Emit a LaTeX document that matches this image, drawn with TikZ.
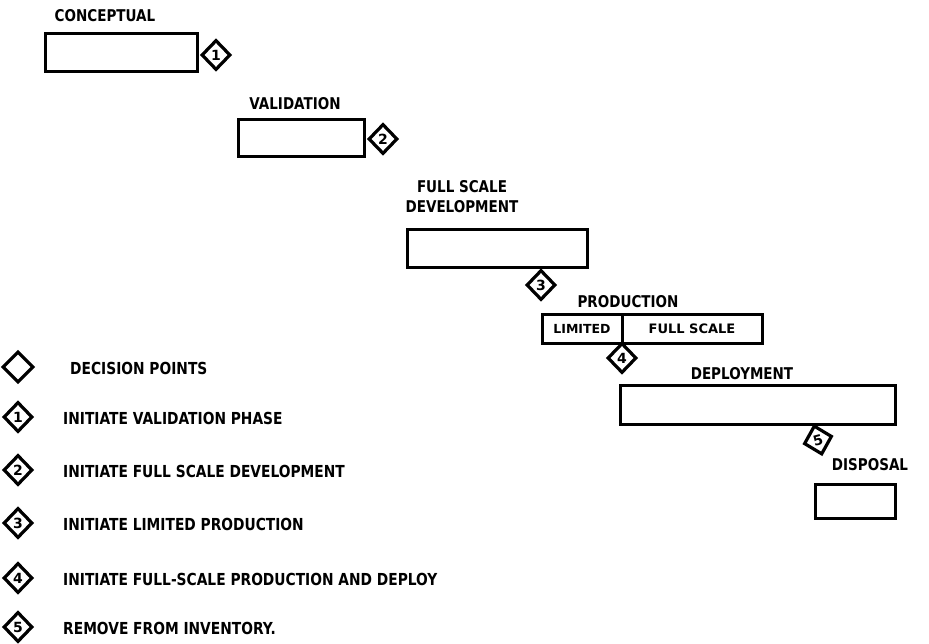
\documentclass[tikz,border=0pt]{standalone}
\usepackage{fontspec}
\setmainfont{DejaVu Sans}
\usetikzlibrary{shapes.geometric}
\begin{document}
\begin{tikzpicture}[x=1pt,y=-1pt,
  box/.style={draw, line width=3pt, inner sep=0pt},
  dia/.style={draw, shape=diamond, line width=3.2pt, inner sep=0pt,
     minimum width=29pt, minimum height=30pt, font=\bfseries\fontsize{14}{14}\selectfont},
  lab/.style={font=\bfseries\fontsize{13.5}{16.5}\selectfont, inner sep=0pt, align=center, yscale=1.2},
  leg/.style={font=\bfseries\fontsize{13.8}{15}\selectfont, inner sep=0pt, anchor=west, yscale=1.2}]
\useasboundingbox (0,0) rectangle (929,644);
% phases
\node[lab] (lconc) at (105,16) {CONCEPTUAL};
\node[box, minimum width=152pt, minimum height=38pt] (bconc) at (121,53) {};
\node[dia] (d1) at (216,55) {1};

\node[lab] (lval) at (295,104) {VALIDATION};
\node[box, minimum width=126pt, minimum height=37pt] (bval) at (301,138.5) {};
\node[dia] (d2) at (383,139) {2};

\node[lab] (lfsd) at (462,197) {FULL SCALE\\DEVELOPMENT};
\node[box, minimum width=180pt, minimum height=38pt] (bfsd) at (497,249) {};
\node[dia] (d3) at (541,285) {3};

\node[lab] (lprod) at (628,302) {PRODUCTION};
\node[box, minimum width=80pt, minimum height=28pt, font=\bfseries\fontsize{12.5}{12}\selectfont] (blim) at (582,329) {LIMITED};
\node[box, minimum width=140pt, minimum height=28pt, font=\bfseries\fontsize{13}{12}\selectfont] (bfull) at (692,329) {FULL SCALE};
\node[dia] (d4) at (622,358) {4};

\node[lab] (ldep) at (742,374) {DEPLOYMENT};
\node[box, minimum width=275pt, minimum height=39pt] (bdep) at (757.5,404.5) {};
\node[dia, rotate=15] (d5) at (818,440) {5};

\node[lab] (ldis) at (870,465) {DISPOSAL};
\node[box, minimum width=80pt, minimum height=34pt] (bdis) at (855,501) {};

% legend
\node[dia, minimum width=31pt, minimum height=31pt] (g0) at (18,367) {};
\node[leg] (t0) at (70,368) {DECISION POINTS};
\node[dia] (g1) at (18,417) {1};
\node[leg] (t1) at (63,418) {INITIATE VALIDATION PHASE};
\node[dia] (g2) at (18,470) {2};
\node[leg] (t2) at (63,471) {INITIATE FULL SCALE DEVELOPMENT};
\node[dia] (g3) at (18,523) {3};
\node[leg] (t3) at (63,524) {INITIATE LIMITED PRODUCTION};
\node[dia] (g4) at (18,578) {4};
\node[leg] (t4) at (63,579) {INITIATE FULL-SCALE PRODUCTION AND DEPLOY};
\node[dia] (g5) at (18,627) {5};
\node[leg] (t5) at (63,628) {REMOVE FROM INVENTORY.};
\end{tikzpicture}
\end{document}
